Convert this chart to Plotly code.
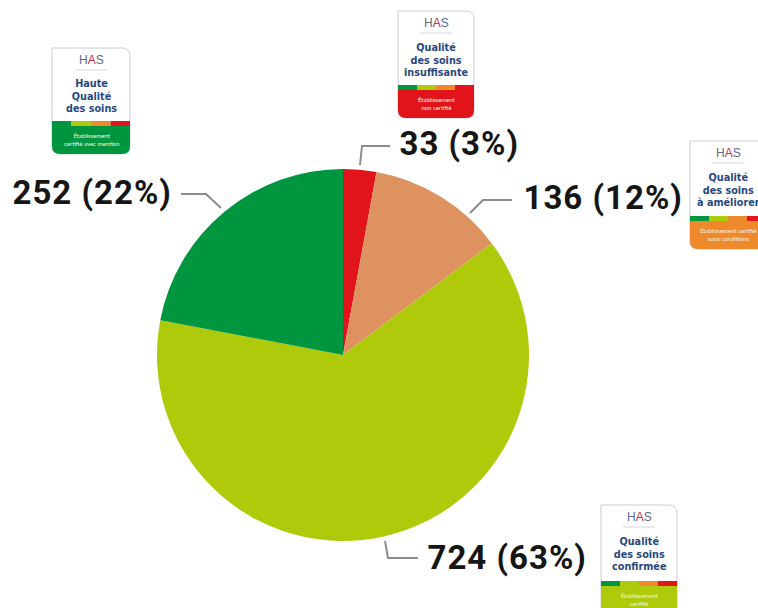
import plotly.graph_objects as go

categories = ["Qualité des soins insuffisante", "Qualité des soins à améliorer",
              "Qualité des soins confirmée", "Haute Qualité des soins"]
values = [33, 136, 724, 252]
percents = [3, 12, 63, 22]
colors = ["#E1141C", "#DE9260", "#AFCA0B", "#009640"]

W, H = 758, 608
def px(x): return x / W
def py(y): return 1 - y / H

CX, CY, R = 343, 355, 186

fig = go.Figure(go.Pie(
    labels=categories, values=values, sort=False, direction="clockwise", rotation=0,
    marker=dict(colors=colors, line=dict(width=0)),
    textinfo="none", hoverinfo="label+value+percent", showlegend=False,
    domain=dict(x=[px(CX - R), px(CX + R)], y=[py(CY + R), py(CY - R)]),
))

shapes, annotations = [], []

def text(x, y, t, size, color, font="Roboto", weight=None):
    annotations.append(dict(x=px(x), y=py(y), xref="paper", yref="paper", text=t, showarrow=False,
                            xanchor="center", yanchor="middle", align="center",
                            font=dict(size=size, color=color, family=font, weight=weight)))

# value labels and their leader lines (same order as values)
label_centers = [(459, 144), (603, 198), (507, 557), (92, 193)]
leaders = [
    [(360, 165), (362, 146), (390, 146)],
    [(470, 213), (483, 200), (512, 200)],
    [(385, 541), (388, 558), (418, 558)],
    [(221, 208), (206, 194), (181, 194)],
]
for (lx, ly), pts, v, p in zip(label_centers, leaders, values, percents):
    text(lx, ly, f"<b>{v} ({p}%)</b>", 33, "#161615")
    d = "M" + " L".join(f"{px(a)},{py(b)}" for a, b in pts)
    shapes.append(dict(type="path", path=d, xref="paper", yref="paper",
                       line=dict(color="#8c8c8c", width=2), fillcolor="rgba(0,0,0,0)"))

# certification badges
NAVY = "#27487f"
STRIPES = ["#009640", "#AFCA0B", "#EE8A2C", "#E1141C"]

def badge(x0, y0, w, band_y, bottom, title, foot, active):
    x1 = x0 + w
    r = 8
    def P(a, b): return f"{px(a)},{py(b)}"
    outline = (f"M{P(x0,y0)} L{P(x1-r,y0)} Q{P(x1,y0)} {P(x1,y0+r)} L{P(x1,bottom-r)} "
               f"Q{P(x1,bottom)} {P(x1-r,bottom)} L{P(x0+r,bottom)} Q{P(x0,bottom)} {P(x0,bottom-r)} Z")
    shapes.append(dict(type="path", path=outline, xref="paper", yref="paper",
                       fillcolor="white", line=dict(color="#c9ccd4", width=1)))
    block = (f"M{P(x0,band_y+5)} L{P(x1,band_y+5)} L{P(x1,bottom-r)} Q{P(x1,bottom)} {P(x1-r,bottom)} "
             f"L{P(x0+r,bottom)} Q{P(x0,bottom)} {P(x0,bottom-r)} Z")
    shapes.append(dict(type="path", path=block, xref="paper", yref="paper",
                       fillcolor=STRIPES[active], line=dict(width=0)))
    for i, c in enumerate(STRIPES):
        shapes.append(dict(type="rect", xref="paper", yref="paper", line=dict(width=0),
                           x0=px(x0 + w * i / 4), x1=px(x0 + w * (i + 1) / 4),
                           y0=py(band_y), y1=py(band_y + 5), fillcolor=c))
    mid = x0 + w / 2
    text(mid, y0 + 12, "H<span style='color:#b5304a'>A</span>S", 12, "#5b6b8c", "Liberation Sans")
    shapes.append(dict(type="line", xref="paper", yref="paper", x0=px(mid - 16), x1=px(mid + 16),
                       y0=py(y0 + 22), y1=py(y0 + 22), line=dict(color="#d5d8de", width=1)))
    text(mid, y0 + 48.5, "<br>".join(f"<b>{t}</b>" for t in title), 9.7, NAVY, "DejaVu Sans")
    text(mid, band_y + 18, "<br>".join(foot), 6, "#f3f3e0", "Lato")

badge(52, 48, 78, 121, 154, ["Haute", "Qualité", "des soins"], ["Établissement", "certifié avec mention"], 0)
badge(398, 11, 76, 85, 118, ["Qualité", "des soins", "insuffisante"], ["Établissement", "non certifié"], 3)
badge(690, 141, 76, 216, 249, ["Qualité", "des soins", "à améliorer"], ["Établissement certifié", "sous conditions"], 2)
badge(601, 505, 76, 581, 615, ["Qualité", "des soins", "confirmée"], ["Établissement", "certifié"], 1)

fig.update_layout(width=W, height=H, margin=dict(l=0, r=0, t=0, b=0),
                  paper_bgcolor="white", plot_bgcolor="white",
                  shapes=shapes, annotations=annotations)
fig.write_html("out.html", config=dict(displayModeBar=False),
               post_script="document.body.style.margin='0';document.documentElement.style.overflow='hidden';"
                           "document.querySelectorAll('.annotation-text').forEach(function(t){"
                           "if(t.textContent.indexOf('%')>=0){t.style.letterSpacing='1px';}});")
